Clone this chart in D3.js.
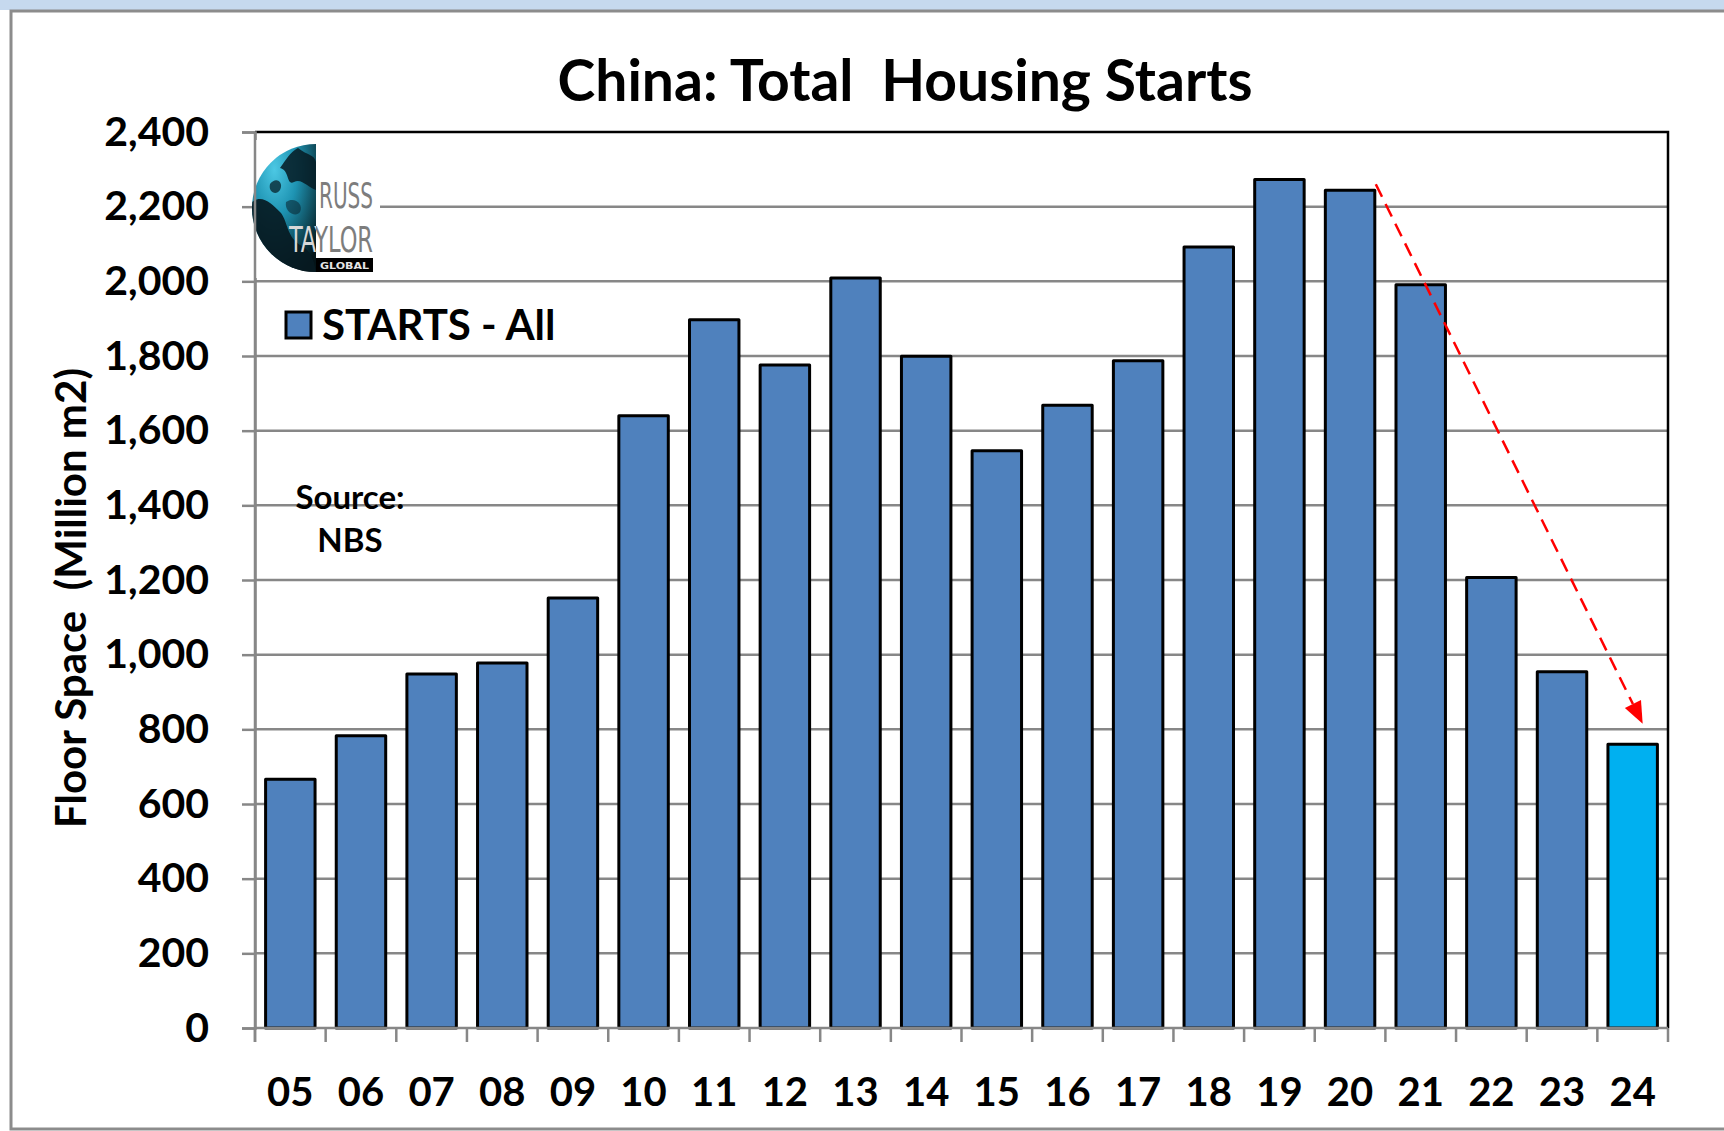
<!DOCTYPE html>
<html>
<head>
<meta charset="utf-8">
<script src="https://cdn.jsdelivr.net/npm/d3@7/dist/d3.min.js"></script>
<style>
  html, body { margin: 0; padding: 0; background: #ffffff; }
  svg { display: block; }
  .lbl { font-family: Lato, "Open Sans", "DejaVu Sans", sans-serif; font-weight: 700; fill: #000; }
</style>
</head>
<body>
<svg id="chart" width="1724" height="1131"></svg>
<script>
// China: total housing starts, floor space in million m2 (source: NBS)
const years = ["05","06","07","08","09","10","11","12","13","14","15","16","17","18","19","20","21","22","23","24"];
const starts = [666, 783, 948, 978, 1152, 1640, 1897, 1776, 2009, 1799, 1546, 1668, 1787, 2092, 2273, 2244, 1991, 1207, 954, 760];
const yTicks = [0, 200, 400, 600, 800, 1000, 1200, 1400, 1600, 1800, 2000, 2200, 2400];
const highlightYear = "24";
// Trend arrow from the 2020 peak down to the latest year
const trendFrom = { year: "20", value: 2260 };
const trendTo = { year: "24", value: 815 };

const W = 1724, H = 1131;
const plot = { left: 255, right: 1668, top: 132, bottom: 1028 };

const svg = d3.select("#chart");

// Window frame
svg.append("rect").attr("x", 0).attr("y", 0).attr("width", W).attr("height", H).attr("fill", "#ffffff");
svg.append("rect").attr("x", 0).attr("y", 0).attr("width", W).attr("height", 10).attr("fill", "#c6d9ee");
svg.append("rect").attr("x", 11).attr("y", 11).attr("width", W + 20).attr("height", H - 13)
  .attr("fill", "#ffffff").attr("stroke", "#8c8c8c").attr("stroke-width", 3);

const x = d3.scaleBand().domain(years).range([plot.left, plot.right]).paddingInner(0.3).paddingOuter(0.15);
const y = d3.scaleLinear().domain([0, 2400]).range([plot.bottom, plot.top]);

const gridColor = "#878787";

// Horizontal gridlines
svg.append("g").selectAll("line").data(yTicks.filter(d => d > 0 && d < 2400)).join("line")
  .attr("x1", plot.left).attr("x2", plot.right)
  .attr("y1", d => y(d)).attr("y2", d => y(d))
  .attr("stroke", gridColor).attr("stroke-width", 2.5);

// Plot-area border (top and right)
svg.append("path")
  .attr("d", `M${plot.left},${plot.top}H${plot.right}V${plot.bottom}`)
  .attr("fill", "none").attr("stroke", "#000").attr("stroke-width", 2.5);

// Y axis
const yAxis = svg.append("g").attr("transform", `translate(${plot.left},0)`)
  .call(d3.axisLeft(y).tickValues(yTicks).tickSize(13).tickPadding(33).tickFormat(d3.format(",")));
yAxis.select(".domain").attr("stroke", gridColor).attr("stroke-width", 2.5);
yAxis.selectAll(".tick line").attr("stroke", gridColor).attr("stroke-width", 2.5);
yAxis.selectAll(".tick text").attr("class", "lbl").style("font-size", "41px");

// Logo (white backing hides the gridline behind it)
const logo = svg.append("g").attr("transform", "translate(316,208)");
logo.append("rect").attr("x", -62).attr("y", -68).attr("width", 126).attr("height", 138).attr("fill", "#fff");
const defs = svg.append("defs");
const grad = defs.append("radialGradient").attr("id", "globeGrad").attr("cx", "35%").attr("cy", "20%").attr("r", "90%");
grad.append("stop").attr("offset", "0%").attr("stop-color", "#4cc8e4");
grad.append("stop").attr("offset", "40%").attr("stop-color", "#1e93b2");
grad.append("stop").attr("offset", "100%").attr("stop-color", "#041418");
defs.append("clipPath").attr("id", "halfGlobe").append("path")
  .attr("d", d3.arc()({ innerRadius: 0, outerRadius: 64, startAngle: Math.PI, endAngle: 2 * Math.PI }));
// letters over the globe are light, the rest grey
const wordFill = defs.append("linearGradient").attr("id", "wordFill")
  .attr("gradientUnits", "userSpaceOnUse").attr("x1", -64).attr("x2", 64).attr("y1", 0).attr("y2", 0);
wordFill.append("stop").attr("offset", "0.5").attr("stop-color", "#d8d8d8");
wordFill.append("stop").attr("offset", "0.5").attr("stop-color", "#7d7d7d");
const globe = logo.append("g").attr("clip-path", "url(#halfGlobe)");
globe.append("rect").attr("x", -64).attr("y", -64).attr("width", 64).attr("height", 128).attr("fill", "url(#globeGrad)");
// land masses
globe.append("path").attr("fill", "#061a22").attr("opacity", 0.92)
  .attr("d", "M-64,-6 C-54,-14 -44,-4 -36,4 C-28,12 -30,30 -14,38 C-4,44 0,56 0,70 L-64,70 Z");
globe.append("path").attr("fill", "#061a22").attr("opacity", 0.85)
  .attr("d", "M-18,-60 C-8,-52 -2,-54 0,-46 L0,-18 C-8,-20 -14,-30 -22,-26 C-30,-22 -26,-38 -36,-40 C-30,-48 -26,-56 -18,-60 Z");
globe.append("path").attr("fill", "#0a2a35").attr("opacity", 0.8)
  .attr("d", "M-46,-24 C-40,-32 -32,-26 -36,-18 C-40,-12 -48,-16 -46,-24 Z");
globe.append("path").attr("fill", "#0a2a35").attr("opacity", 0.6)
  .attr("d", "M-30,-6 C-22,-12 -12,-4 -16,4 C-20,10 -32,4 -30,-6 Z");

// Wordmark: tall narrow letters
const narrow = "'Liberation Sans Narrow', 'DejaVu Sans Condensed', 'Liberation Sans', sans-serif";
logo.append("text").attr("x", 3).attr("y", 0).text("RUSS")
  .attr("textLength", 54).attr("lengthAdjust", "spacingAndGlyphs")
  .style("font-family", narrow).style("font-weight", 400).style("font-size", "36px").style("fill", "#7d7d7d");
logo.append("text").attr("x", -27).attr("y", 44).text("TAYLOR")
  .attr("textLength", 84).attr("lengthAdjust", "spacingAndGlyphs")
  .style("font-family", narrow).style("font-weight", 400).style("font-size", "36px").style("fill", "url(#wordFill)");
logo.append("rect").attr("x", 0).attr("y", 50).attr("width", 57).attr("height", 14).attr("fill", "#000");
logo.append("text").attr("x", 4).attr("y", 61).text("GLOBAL")
  .style("font-family", "'DejaVu Sans', sans-serif").style("font-weight", 700).style("font-size", "9px")
  .style("fill", "#e6e6e6").attr("textLength", 49).attr("lengthAdjust", "spacingAndGlyphs");

// Bars
svg.append("g").selectAll("rect").data(years.map((yr, i) => ({ yr, v: starts[i] }))).join("rect")
  .attr("x", d => x(d.yr)).attr("width", x.bandwidth())
  .attr("y", d => y(d.v)).attr("height", d => y(0) - y(d.v))
  .attr("fill", d => d.yr === highlightYear ? "#00b0f0" : "#4f81bd")
  .attr("stroke", "#000").attr("stroke-width", 3).attr("stroke-linejoin", "round");

// X axis with tick marks between categories
const xAxisG = svg.append("g").attr("transform", `translate(0,${plot.bottom})`);
xAxisG.append("line").attr("x1", plot.left).attr("x2", plot.right).attr("y1", 0).attr("y2", 0)
  .attr("stroke", gridColor).attr("stroke-width", 2.5);
const boundaries = years.map(yr => x(yr) - x.step() * x.paddingInner() / 2).concat([plot.right]);
boundaries[0] = plot.left;
xAxisG.selectAll("line.tk").data(boundaries).join("line").attr("class", "tk")
  .attr("x1", d => d).attr("x2", d => d).attr("y1", 0).attr("y2", 14)
  .attr("stroke", gridColor).attr("stroke-width", 2.5);
xAxisG.selectAll("text").data(years).join("text").attr("class", "lbl")
  .attr("x", d => x(d) + x.bandwidth() / 2).attr("y", 78)
  .attr("text-anchor", "middle").style("font-size", "40px").text(d => d);

// Left axis line drawn on top of bars
svg.append("line").attr("x1", plot.left).attr("x2", plot.left).attr("y1", plot.top).attr("y2", plot.bottom + 14)
  .attr("stroke", gridColor).attr("stroke-width", 2.5);

// Trend arrow
const ax0 = x(trendFrom.year) + x.bandwidth() + 1, ay0 = y(trendFrom.value);
const ax1 = x(trendTo.year) + x.bandwidth() / 2 + 10, ay1 = y(trendTo.value);
const ang = Math.atan2(ay1 - ay0, ax1 - ax0);
const headLen = 22, headHalf = 9;
const bx = ax1 - headLen * Math.cos(ang), by = ay1 - headLen * Math.sin(ang);
svg.append("line").attr("x1", ax0).attr("y1", ay0).attr("x2", bx).attr("y2", by)
  .attr("stroke", "#ff0000").attr("stroke-width", 2.5).attr("stroke-dasharray", "14,8");
svg.append("path")
  .attr("d", `M${ax1},${ay1}L${bx - headHalf * Math.sin(ang)},${by + headHalf * Math.cos(ang)}L${bx + headHalf * Math.sin(ang)},${by - headHalf * Math.cos(ang)}Z`)
  .attr("fill", "#ff0000");

// Title
svg.append("text").attr("class", "lbl").attr("x", 905).attr("y", 101).attr("text-anchor", "middle")
  .style("font-size", "57px").style("white-space", "pre")
  .text("China: Total  Housing Starts");

// Y axis title
svg.append("text").attr("class", "lbl").attr("transform", "translate(86,598) rotate(-90)")
  .attr("text-anchor", "middle").style("font-size", "42px").style("white-space", "pre")
  .text("Floor Space  (Million m2)");

// Legend
svg.append("rect").attr("x", 286).attr("y", 312).attr("width", 25).attr("height", 26)
  .attr("fill", "#4f81bd").attr("stroke", "#000").attr("stroke-width", 3);
svg.append("text").attr("class", "lbl").attr("x", 322).attr("y", 340).style("font-size", "42px").text("STARTS - All");

// Source note
svg.append("text").attr("class", "lbl").attr("x", 350).attr("y", 509).attr("text-anchor", "middle").style("font-size", "33px").text("Source:");
svg.append("text").attr("class", "lbl").attr("x", 350).attr("y", 552).attr("text-anchor", "middle").style("font-size", "33px").text("NBS");
</script>
</body>
</html>
